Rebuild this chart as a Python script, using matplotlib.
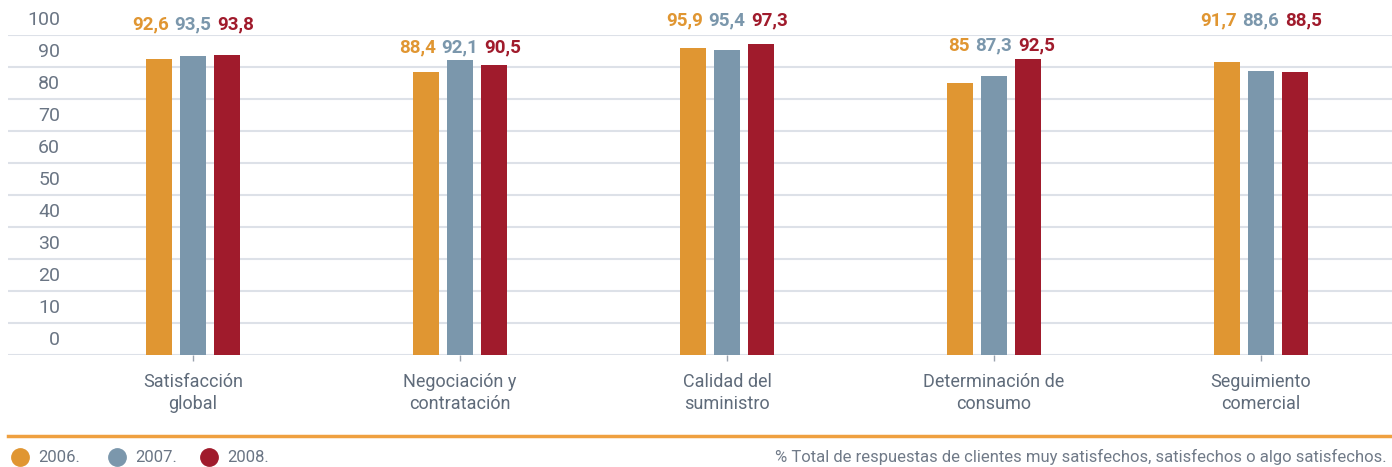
import matplotlib
matplotlib.use('Agg')
import matplotlib.pyplot as plt

plt.rcParams['font.family'] = ['Roboto', 'DejaVu Sans']

categories = ['Satisfacción\nglobal', 'Negociación y\ncontratación', 'Calidad del\nsuministro',
              'Determinación de\nconsumo', 'Seguimiento\ncomercial']
years = ['2006.', '2007.', '2008.']
v2006 = [92.6, 88.4, 95.9, 85.0, 91.7]
v2007 = [93.5, 92.1, 95.4, 87.3, 88.6]
v2008 = [93.8, 90.5, 97.3, 92.5, 88.5]
yticks = [0, 10, 20, 30, 40, 50, 60, 70, 80, 90, 100]

colors = ['#E09632', '#7B97AC', '#A01B2C']
text_grey = '#5f6b7a'
grid_grey = '#dde1e8'

# height of the value labels in each group (layout only)
label_y = [103.2, 96.1, 104.5, 96.7, 104.5]

W, H = 1392, 467
fig = plt.figure(figsize=(W / 100, H / 100), dpi=100)
ax = fig.add_axes([8 / W, (H - 355) / H, (W - 8) / W, 320 / H])

x = list(range(len(categories)))
width = 0.097
pitch = 0.127
series = [v2006, v2007, v2008]
for i, vals in enumerate(series):
    xs = [c + (i - 1) * pitch for c in x]
    ax.bar(xs, vals, width=width, color=colors[i], zorder=3)

ax.set_xlim(-0.693, 4.491)
ax.set_ylim(0, 100)
for spine in ax.spines.values():
    spine.set_visible(False)

# grid lines
for t in yticks:
    ax.axhline(t, color=grid_grey, lw=1.5, zorder=1)

# y labels sit above their line
ax.set_yticks([])
for t in yticks:
    ax.text((60 - 8) / (W - 8), t + 4.6, str(t), transform=ax.get_yaxis_transform(),
            ha='right', va='center', fontsize=14, color='#6a7584')

# x ticks and category labels
ax.set_xticks(x)
ax.set_xticklabels(categories, fontsize=13, color=text_grey, linespacing=1.25)
ax.tick_params(axis='x', length=4, width=1, color='#9aa3ae', pad=9)

# value labels
fs = 13.5
for g in x:
    mid = ax.text(g, label_y[g], f'{v2007[g]:.1f}'.replace('.', ','), ha='center', va='center',
                  fontsize=fs, fontweight='bold', color=colors[1])
    left_txt = f'{v2006[g]:g}'.replace('.', ',')
    ax.annotate(left_txt, xy=(0, 0.5), xycoords=mid, xytext=(-4, 0), textcoords='offset points',
                ha='right', va='center', fontsize=fs, fontweight='bold', color=colors[0])
    ax.annotate(f'{v2008[g]:.1f}'.replace('.', ','), xy=(1, 0.5), xycoords=mid, xytext=(4, 0),
                textcoords='offset points', ha='left', va='center', fontsize=fs,
                fontweight='bold', color=colors[2])

# orange separator line
fig.add_artist(plt.Line2D([8 / W, 1.0], [(H - 436) / H, (H - 436) / H], color='#EFA040', lw=2.5))

# legend
leg_x = [20, 117, 209]
for i, yr in enumerate(years):
    fig.add_artist(plt.Line2D([leg_x[i] / W], [(H - 457) / H], marker='o', markersize=12.5,
                              color=colors[i], linestyle='none'))
    fig.text((leg_x[i] + 18) / W, (H - 457) / H, yr, ha='left', va='center',
             fontsize=12, color='#6a7584')

fig.text(1387 / W, (H - 457) / H,
         '% Total de respuestas de clientes muy satisfechos, satisfechos o algo satisfechos.',
         ha='right', va='center', fontsize=12, color='#707a88')

fig.savefig('out.png', dpi=100)
